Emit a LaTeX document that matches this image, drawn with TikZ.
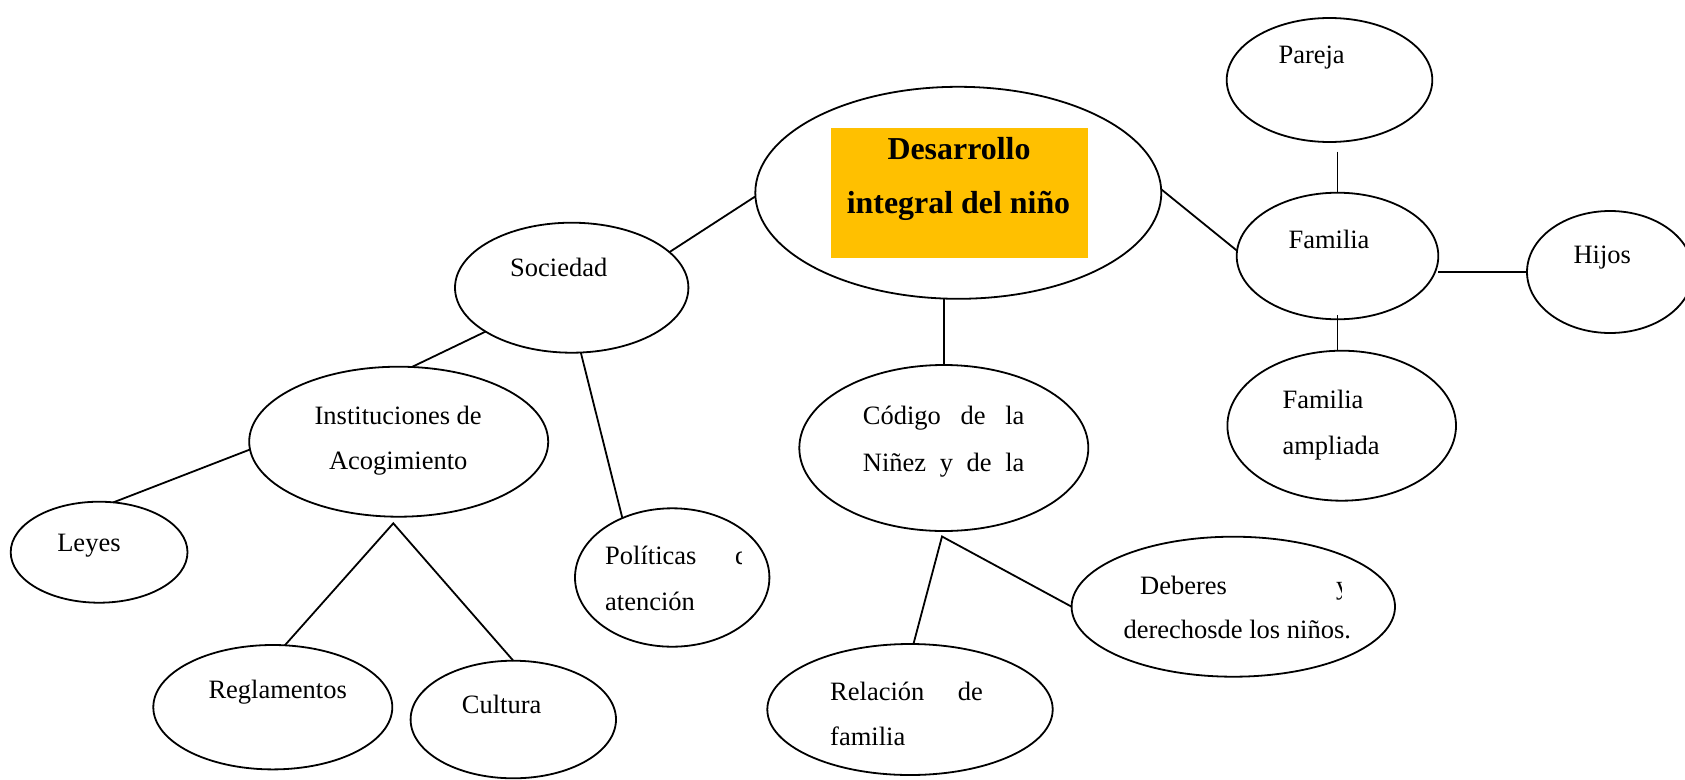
\documentclass[tikz,border=0pt]{standalone}
\usepackage{fontspec}
\setmainfont{Liberation Serif}
\usetikzlibrary{shapes.geometric}
\definecolor{gold}{HTML}{FFC000}
\begin{document}
\begin{tikzpicture}[x=1pt,y=-1pt,
  bubble/.style={ellipse,draw,line width=1.8pt,inner sep=0pt,outer sep=0pt},
  link/.style={line width=1.8pt},
  lbl/.style={anchor=base west,inner sep=0pt,font=\fontsize{26.5}{30}\selectfont},
  clbl/.style={anchor=base,inner sep=0pt,font=\fontsize{26.5}{30}\selectfont},
  ttl/.style={anchor=base,inner sep=0pt,font=\fontsize{31.9}{36}\selectfont\bfseries}]
\useasboundingbox (0,0) rectangle (1685,779);

% title box
\node[fill=gold,inner sep=0pt,minimum width=257pt,minimum height=129.4pt] (tbox) at (959.2,193) {};
\node[ttl] (t1) at (959,159) {Desarrollo};
\node[ttl] (t2) at (958.5,213) {integral del niño};

% ellipses
\node[bubble,minimum width=406pt,minimum height=212pt] (cen) at (958.3,192.8) {};
\node[bubble,minimum width=233.4pt,minimum height=130pt] (soc) at (571.7,287.7) {};
\node[bubble,minimum width=205.6pt,minimum height=124pt] (par) at (1329.5,80) {};
\node[bubble,minimum width=201.6pt,minimum height=126.6pt] (fam) at (1337.5,256) {};
\node[bubble,minimum width=166pt,minimum height=122pt] (hij) at (1610,272) {};
\node[bubble,minimum width=228.6pt,minimum height=150pt] (fama) at (1341.7,425.7) {};
\node[bubble,minimum width=289pt,minimum height=166pt] (cod) at (943.8,448) {};
\node[bubble,minimum width=285.4pt,minimum height=131pt] (rel) at (910,709.5) {};
\node[bubble,minimum width=323.4pt,minimum height=140pt] (deb) at (1233.3,606.7) {};
\node[bubble,minimum width=194.4pt,minimum height=138.4pt] (pol) at (672.2,577.5) {};
\node[bubble,minimum width=299pt,minimum height=150pt] (inst) at (398.7,441.7) {};
\node[bubble,minimum width=176.8pt,minimum height=101pt] (ley) at (99.1,552.2) {};
\node[bubble,minimum width=239pt,minimum height=124.4pt] (reg) at (272.8,707.2) {};
\node[bubble,minimum width=205.4pt,minimum height=117.6pt] (cul) at (513.3,719.5) {};

% texts
\node[lbl] (soct) at (510,276.7) {Sociedad};
\node[lbl] (part) at (1278.3,63.3) {Pareja};
\node[lbl] (famt) at (1288.3,248.3) {Familia};
\node[lbl] (hijt) at (1573.3,263.3) {Hijos};
\node[lbl] (famat1) at (1282.3,408.3) {Familia};
\node[lbl] (famat2) at (1282.3,454) {ampliada};
\node[lbl] (codt1) at (862.7,424) {\hbox to 161.6pt{Código\hfill de\hfill la}};
\node[lbl] (codt2) at (862.7,471) {\hbox to 161.6pt{Niñez\hfill y\hfill de\hfill la}};
\node[lbl] (relt1) at (830,700) {\hbox to 152.7pt{Relación\hfill de}};
\node[lbl] (relt2) at (830,745) {familia};
\node[lbl] (debt1) at (1140,594) {Deberes};
\begin{scope}
  \clip (1300,560) rectangle (1341,610);
  \node[lbl] (debt1y) at (1336,594) {y};
\end{scope}
\node[lbl] (debt2) at (1123.3,638.3) {derechosde los niños.};
\node[lbl] (polt1) at (605,564) {Políticas};
\begin{scope}
  \clip (700,530) rectangle (741,575);
  \node[lbl] (polt1d) at (735,564) {d};
\end{scope}
\node[lbl] (polt2) at (605,610) {atención};
\node[clbl] (instt1) at (398.2,424) {Instituciones de};
\node[clbl] (instt2) at (398.2,469.3) {Acogimiento};
\node[lbl] (leyt) at (57.1,551.7) {Leyes};
\node[lbl] (regt) at (208.3,698.3) {Reglamentos};
\node[lbl] (cult) at (461.7,713.3) {Cultura};

% connectors
\coordinate (parfoot) at ([yshift=-9.5pt]par.south);
\coordinate (famfoot) at ([yshift=4pt]fam.south);
\coordinate (codapex) at (942,536.5);
\coordinate (instapex) at (393.3,523.3);
\draw[link] (soc.20) -- (cen.181);
\draw[link] (cen.1) -- (fam.177);
\draw[link] (fam.north |- parfoot) -- (fam.north);
\draw[link] (fam.east |- hij.west) -- (hij.west);
\draw[link] (famfoot) -- (famfoot |- fama.north);
\draw[link] (cod.north |- cen.south) -- (cod.north);
\draw[link] (rel.87) -- (codapex) -- (deb.west);
\draw[link] (soc.207) -- (inst.80);
\draw[link] (soc.278) -- (pol.130);
\draw[link] (inst.183) -- (ley.74);
\draw[link] (reg.79) -- (instapex) -- (cul.north);
\end{tikzpicture}
\end{document}
